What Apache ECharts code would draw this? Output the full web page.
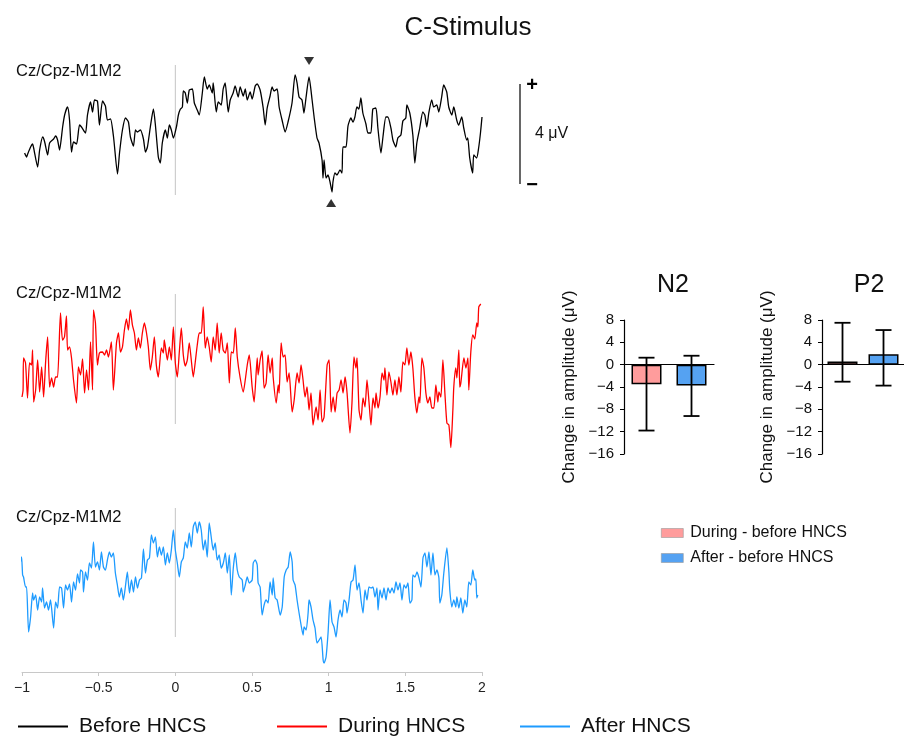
<!DOCTYPE html>
<html>
<head>
<meta charset="utf-8">
<script src="https://cdn.jsdelivr.net/npm/echarts@6/dist/echarts.min.js"></script>
<style>html,body{margin:0;padding:0;background:#fff}#chart{width:904px;height:739px}</style>
</head>
<body>
<div id="chart"></div>
<script>
// traces: [time (s), amplitude (µV)]
const beforeHNCS = [[-0.983,-1.12],[-0.970,-1.28],[-0.963,-1.16],[-0.944,-0.88],[-0.931,-0.76],[-0.924,-0.92],[-0.898,-1.68],[-0.885,-1.00],[-0.865,-0.48],[-0.852,-0.68],[-0.833,-1.20],[-0.820,-0.72],[-0.794,-0.56],[-0.781,-0.44],[-0.768,-0.60],[-0.755,-1.00],[-0.735,-0.08],[-0.722,0.40],[-0.703,0.72],[-0.690,0.20],[-0.677,-1.08],[-0.664,-0.68],[-0.644,-0.76],[-0.625,0.00],[-0.612,-0.08],[-0.586,-0.32],[-0.573,0.40],[-0.553,0.92],[-0.540,0.52],[-0.527,1.00],[-0.508,0.96],[-0.495,0.00],[-0.475,0.96],[-0.456,0.76],[-0.443,0.20],[-0.423,0.24],[-0.403,-0.48],[-0.377,-1.96],[-0.364,-1.12],[-0.345,-0.20],[-0.325,0.28],[-0.306,0.12],[-0.293,-0.48],[-0.273,-0.84],[-0.260,-0.20],[-0.247,-0.28],[-0.228,-0.20],[-0.208,-0.56],[-0.195,-1.08],[-0.182,-0.88],[-0.163,-0.08],[-0.143,0.64],[-0.130,0.00],[-0.111,-1.28],[-0.098,-1.52],[-0.085,-0.72],[-0.065,-0.20],[-0.052,-0.52],[-0.039,0.00],[-0.026,-0.20],[-0.013,-0.52],[0.007,-0.08],[0.020,0.40],[0.033,0.64],[0.046,0.72],[0.052,1.36],[0.065,1.28],[0.078,0.88],[0.091,1.40],[0.111,1.44],[0.124,0.88],[0.143,0.60],[0.156,0.40],[0.176,1.28],[0.189,1.92],[0.208,1.44],[0.221,1.60],[0.241,1.28],[0.247,1.68],[0.267,0.52],[0.280,0.92],[0.299,0.80],[0.312,1.44],[0.325,1.68],[0.345,0.52],[0.358,1.00],[0.377,1.28],[0.390,1.56],[0.410,1.12],[0.423,1.52],[0.443,1.16],[0.456,1.44],[0.469,1.00],[0.488,1.32],[0.501,1.04],[0.521,1.56],[0.534,1.64],[0.553,1.40],[0.573,0.68],[0.586,0.00],[0.599,0.68],[0.618,1.16],[0.631,1.52],[0.644,1.36],[0.664,1.44],[0.677,0.72],[0.696,0.20],[0.716,-0.28],[0.735,0.12],[0.761,0.88],[0.781,2.00],[0.794,1.68],[0.807,1.12],[0.826,1.00],[0.839,0.48],[0.852,1.08],[0.872,1.92],[0.892,1.00],[0.905,0.32],[0.924,-0.52],[0.937,-0.72],[0.957,-1.40],[0.963,-2.12],[0.970,-1.40],[0.983,-2.12],[0.996,-2.00],[1.009,-2.28],[1.022,-2.68],[1.028,-2.28],[1.041,-1.92],[1.054,-2.00],[1.074,-1.80],[1.087,-1.92],[1.093,-0.88],[1.113,-0.88],[1.126,-0.04],[1.145,0.28],[1.158,0.12],[1.171,0.32],[1.184,0.72],[1.197,0.64],[1.210,1.08],[1.223,0.48],[1.243,0.04],[1.256,-0.32],[1.275,-0.32],[1.288,0.64],[1.308,0.68],[1.321,-0.12],[1.341,-1.12],[1.354,-0.48],[1.373,0.32],[1.386,0.32],[1.406,-0.12],[1.419,-0.60],[1.438,-0.88],[1.451,-0.52],[1.471,-0.40],[1.484,0.16],[1.503,0.28],[1.510,0.80],[1.529,0.48],[1.549,-0.40],[1.562,-1.52],[1.575,-0.72],[1.594,-0.12],[1.614,0.52],[1.627,0.40],[1.640,-0.08],[1.653,0.48],[1.672,1.00],[1.685,0.72],[1.705,0.80],[1.718,0.52],[1.737,1.12],[1.750,1.60],[1.770,1.32],[1.783,0.72],[1.803,0.40],[1.816,0.72],[1.835,0.20],[1.848,0.00],[1.868,0.32],[1.881,-0.12],[1.900,-0.60],[1.907,-0.52],[1.920,-1.32],[1.939,-1.92],[1.946,-1.20],[1.965,-1.32],[1.978,-0.92],[1.990,-0.32],[2.000,0.32]];

const duringHNCS = [[-1.000,-1.68],[-0.993,-1.40],[-0.990,-0.12],[-0.977,-0.32],[-0.964,-1.72],[-0.951,-0.32],[-0.938,-0.40],[-0.931,0.20],[-0.924,-1.88],[-0.911,-1.40],[-0.898,-0.20],[-0.885,-1.48],[-0.872,-0.48],[-0.859,-1.68],[-0.846,-0.28],[-0.833,0.72],[-0.820,-1.28],[-0.807,-0.92],[-0.794,-1.28],[-0.781,-0.88],[-0.768,-0.88],[-0.749,1.68],[-0.736,0.60],[-0.723,0.72],[-0.710,1.56],[-0.703,0.20],[-0.690,0.32],[-0.677,-0.12],[-0.664,-1.00],[-0.645,-1.92],[-0.632,-0.48],[-0.618,-0.80],[-0.605,-0.16],[-0.592,-1.52],[-0.579,-0.60],[-0.566,-1.40],[-0.553,0.52],[-0.540,-1.40],[-0.534,1.80],[-0.521,1.28],[-0.508,-0.40],[-0.495,0.08],[-0.475,0.12],[-0.462,0.00],[-0.449,0.20],[-0.436,-0.08],[-0.417,0.52],[-0.404,-1.40],[-0.384,0.48],[-0.371,0.88],[-0.358,0.12],[-0.345,0.32],[-0.332,1.00],[-0.319,1.44],[-0.306,1.00],[-0.293,1.80],[-0.280,1.20],[-0.267,0.88],[-0.254,0.20],[-0.241,0.68],[-0.228,0.28],[-0.215,0.88],[-0.202,1.28],[-0.189,0.92],[-0.176,0.32],[-0.163,-0.60],[-0.150,-0.08],[-0.137,0.72],[-0.124,-0.40],[-0.111,-0.88],[-0.091,0.28],[-0.078,0.08],[-0.072,0.60],[-0.052,-0.20],[-0.039,0.32],[-0.026,-0.20],[-0.013,1.12],[0.000,-0.32],[0.013,-0.88],[0.026,0.12],[0.039,1.08],[0.052,0.00],[0.065,-0.44],[0.078,-0.20],[0.091,0.48],[0.104,-0.20],[0.117,-0.88],[0.130,-0.28],[0.143,0.40],[0.156,0.88],[0.169,0.88],[0.182,1.92],[0.195,0.28],[0.208,0.72],[0.221,0.32],[0.234,-0.28],[0.247,0.72],[0.260,0.20],[0.273,1.28],[0.286,0.08],[0.299,0.88],[0.312,0.20],[0.326,0.08],[0.339,0.48],[0.352,-1.12],[0.365,0.12],[0.378,0.08],[0.391,1.08],[0.404,-0.08],[0.423,-0.92],[0.443,-1.48],[0.456,-1.00],[0.469,-0.40],[0.482,0.00],[0.501,-1.28],[0.514,-1.88],[0.534,-0.12],[0.540,-0.80],[0.553,-0.20],[0.566,0.16],[0.579,-1.32],[0.592,-1.12],[0.605,0.00],[0.618,-0.72],[0.632,-0.12],[0.638,-0.88],[0.658,-1.92],[0.671,-1.20],[0.677,-1.52],[0.690,0.48],[0.703,-0.08],[0.716,0.00],[0.729,-1.08],[0.742,-0.72],[0.762,-2.28],[0.775,-1.80],[0.794,-0.72],[0.807,-1.12],[0.820,-0.40],[0.833,-1.00],[0.846,-1.68],[0.859,-1.28],[0.872,-2.20],[0.885,-1.52],[0.898,-2.80],[0.918,-2.08],[0.931,-2.60],[0.944,-1.40],[0.957,-2.68],[0.970,-2.48],[0.990,-0.40],[1.003,-0.20],[1.016,-2.28],[1.029,-1.68],[1.042,-2.28],[1.055,-1.52],[1.068,-1.40],[1.081,-1.00],[1.094,-1.52],[1.107,-0.88],[1.120,-1.52],[1.139,-3.12],[1.152,-1.92],[1.165,-0.08],[1.178,-0.52],[1.185,-0.12],[1.198,-2.20],[1.211,-2.60],[1.224,-1.72],[1.237,-2.08],[1.250,-1.00],[1.263,-1.88],[1.276,-2.80],[1.289,-1.72],[1.302,-2.12],[1.309,-1.52],[1.322,-2.12],[1.335,-1.68],[1.348,-0.72],[1.361,-1.00],[1.367,-0.52],[1.380,-1.60],[1.393,-0.68],[1.406,-1.08],[1.419,-1.60],[1.432,-1.00],[1.445,-1.60],[1.458,-0.88],[1.471,-1.48],[1.484,-0.28],[1.497,-0.40],[1.510,0.28],[1.523,-0.40],[1.536,0.12],[1.549,-0.52],[1.562,-1.68],[1.575,-2.32],[1.589,-1.68],[1.595,-1.92],[1.608,-0.12],[1.621,-0.52],[1.634,-1.52],[1.647,-1.92],[1.660,-1.68],[1.673,-2.12],[1.686,-2.12],[1.699,-1.20],[1.712,-1.88],[1.719,-1.48],[1.732,-1.68],[1.745,-0.20],[1.758,-1.52],[1.771,-2.72],[1.784,-2.80],[1.797,-3.70],[1.810,-2.20],[1.816,-1.28],[1.829,-0.52],[1.836,-0.92],[1.849,0.20],[1.855,-1.28],[1.862,-1.12],[1.882,-0.12],[1.895,-0.52],[1.908,-0.12],[1.914,-1.40],[1.927,0.12],[1.940,0.80],[1.953,0.64],[1.966,1.28],[1.973,1.12],[1.979,1.92],[1.992,2.04]];

const afterHNCS = [[-1.029,0.24],[-1.016,0.28],[-1.003,0.60],[-0.996,-0.12],[-0.990,-0.20],[-0.977,-0.60],[-0.970,-0.60],[-0.957,-2.40],[-0.944,-1.80],[-0.931,-0.84],[-0.924,-1.12],[-0.911,-0.92],[-0.898,-1.52],[-0.885,-1.00],[-0.872,-1.20],[-0.866,-0.64],[-0.853,-1.44],[-0.840,-1.20],[-0.827,-1.52],[-0.814,-1.12],[-0.794,-2.24],[-0.781,-1.20],[-0.768,-1.44],[-0.755,-0.60],[-0.742,-0.64],[-0.729,-1.44],[-0.716,-0.52],[-0.703,-0.72],[-0.690,-0.48],[-0.677,-1.20],[-0.664,-0.40],[-0.651,-0.72],[-0.638,-0.08],[-0.625,-0.44],[-0.618,0.08],[-0.605,0.00],[-0.599,-0.80],[-0.586,0.00],[-0.573,-0.32],[-0.560,0.36],[-0.547,0.16],[-0.534,1.20],[-0.521,0.20],[-0.508,0.40],[-0.495,0.08],[-0.482,0.80],[-0.469,0.20],[-0.456,0.08],[-0.443,0.48],[-0.430,0.80],[-0.417,0.60],[-0.404,0.76],[-0.391,-0.04],[-0.378,-0.52],[-0.365,-1.00],[-0.352,-0.64],[-0.339,-1.12],[-0.326,-0.60],[-0.313,0.00],[-0.299,-0.84],[-0.286,-0.32],[-0.273,-0.80],[-0.260,-0.20],[-0.247,-0.64],[-0.234,-0.32],[-0.221,-0.24],[-0.208,0.92],[-0.195,-0.04],[-0.182,0.48],[-0.169,0.56],[-0.156,1.48],[-0.143,1.16],[-0.130,1.40],[-0.117,0.60],[-0.104,1.00],[-0.091,0.68],[-0.078,1.00],[-0.065,0.28],[-0.052,0.76],[-0.039,0.36],[-0.026,0.88],[-0.013,1.68],[0.000,0.88],[0.013,0.36],[0.026,-0.20],[0.039,0.40],[0.052,0.56],[0.065,1.20],[0.078,0.96],[0.091,1.56],[0.104,1.00],[0.117,1.80],[0.130,2.00],[0.143,1.56],[0.156,2.00],[0.169,1.68],[0.182,0.88],[0.195,1.28],[0.208,0.60],[0.221,1.96],[0.234,1.40],[0.247,0.88],[0.260,1.16],[0.273,0.48],[0.286,0.68],[0.299,0.16],[0.313,0.36],[0.326,0.76],[0.339,-0.04],[0.352,0.68],[0.365,-0.92],[0.378,0.16],[0.391,0.76],[0.404,0.08],[0.417,-0.20],[0.436,-0.32],[0.443,-0.80],[0.456,-0.52],[0.469,-0.20],[0.482,-0.44],[0.501,-0.32],[0.508,0.36],[0.521,0.48],[0.534,0.28],[0.540,-0.44],[0.553,-0.60],[0.566,-1.72],[0.579,-1.32],[0.592,-1.12],[0.605,-1.24],[0.618,-0.40],[0.632,-0.92],[0.638,-0.24],[0.651,-1.04],[0.664,-1.12],[0.684,-1.72],[0.697,-1.40],[0.710,-0.20],[0.723,0.08],[0.736,0.20],[0.749,0.80],[0.762,0.40],[0.768,-0.32],[0.781,-0.52],[0.794,-1.12],[0.807,-1.64],[0.820,-2.12],[0.833,-2.52],[0.840,-2.20],[0.853,-2.32],[0.866,-1.64],[0.872,-1.12],[0.885,-1.40],[0.898,-1.92],[0.911,-2.24],[0.924,-2.84],[0.938,-2.72],[0.951,-2.60],[0.964,-3.52],[0.970,-3.64],[0.983,-3.40],[0.996,-2.44],[1.009,-1.12],[1.022,-2.00],[1.035,-2.20],[1.048,-2.60],[1.061,-1.92],[1.074,-1.52],[1.087,-1.80],[1.100,-1.12],[1.113,-1.24],[1.120,-1.64],[1.133,-1.12],[1.146,-0.40],[1.159,-0.32],[1.172,0.28],[1.185,-0.72],[1.198,-0.44],[1.211,-1.12],[1.224,-1.64],[1.237,-0.72],[1.250,-1.12],[1.263,-0.60],[1.276,-0.64],[1.289,-0.60],[1.302,-1.00],[1.315,-0.64],[1.322,-1.52],[1.335,-0.72],[1.348,-1.04],[1.361,-0.64],[1.374,-1.12],[1.387,-0.64],[1.400,-0.84],[1.413,-0.64],[1.426,-0.84],[1.439,-0.40],[1.452,-0.72],[1.465,-0.44],[1.478,-1.12],[1.491,-0.52],[1.504,-0.64],[1.517,-0.44],[1.530,-1.24],[1.543,-1.12],[1.549,-0.12],[1.563,-0.20],[1.576,0.00],[1.589,-0.24],[1.602,-0.60],[1.615,0.56],[1.628,0.76],[1.641,0.20],[1.654,0.80],[1.667,-0.12],[1.680,0.76],[1.693,-0.12],[1.706,0.08],[1.719,-0.24],[1.725,-1.24],[1.738,-0.92],[1.751,-0.04],[1.771,0.96],[1.784,0.00],[1.790,-0.72],[1.803,-1.40],[1.816,-1.12],[1.829,-1.40],[1.836,-1.00],[1.849,-1.44],[1.862,-1.04],[1.875,-1.64],[1.888,-1.12],[1.901,-1.40],[1.914,-0.40],[1.927,-0.52],[1.940,0.08],[1.953,-0.32],[1.960,-0.28],[1.966,-1.04],[1.973,-0.92]];

// stimulus onset markers (t = 0), extent in µV
const zeroLineBefore = [[0, 2.4], [0, -2.8]];
const zeroLineDuring = [[0, 2.44], [0, -2.76]];
const zeroLineAfter = [[0, 2.56], [0, -2.6]];

// N2 / P2 peak markers on the pre-HNCS trace
const peakMarks = [[0.872, 2.56], [1.016, -3.12]];

// bar panels
const barGroups = ['During - before HNCS', 'After - before HNCS'];
const n2Mean = [-3.5, -3.75];
const n2Low = [-11.8, -9.2];
const n2High = [1.25, 1.6];
const p2Mean = [0.55, 1.85];
const p2Low = [-3.05, -3.75];
const p2High = [7.5, 6.2];

const FONT = 'Liberation Sans, Arial, sans-serif';
const minus = v => String(v).replace('-', '\u2212');
const pink = '#ff9c9c', blue = '#55a2f2';

function traceAxes(grid, min, max, show) {
  return {
    x: {
      type: 'value', gridIndex: grid, min: -1, max: 2, interval: 0.5, show: show,
      axisLine: { onZero: false, lineStyle: { color: '#c8c8c8' } },
      axisTick: { lineStyle: { color: '#c8c8c8' }, length: 4 },
      axisLabel: { color: '#222', fontSize: 14, fontFamily: FONT, margin: 9, formatter: minus },
      splitLine: { show: false }
    },
    y: { type: 'value', gridIndex: grid, min: min, max: max, show: false }
  };
}
const ax0 = traceAxes(0, -3.4, 3, false);
const ax1 = traceAxes(1, -4, 3, false);
const ax2 = traceAxes(2, -4, 3, true);

function barAxes(grid) {
  return {
    x: {
      type: 'category', gridIndex: grid, data: barGroups,
      axisLine: { onZero: true, lineStyle: { color: '#000', width: 1.2 } },
      axisTick: { show: false }, axisLabel: { show: false }
    },
    y: {
      type: 'value', gridIndex: grid, min: -16, max: 8, interval: 4,
      name: 'Change in amplitude (\u03bcV)', nameLocation: 'middle', nameGap: 46,
      nameTextStyle: { fontSize: 17, color: '#111', fontFamily: FONT },
      axisLine: { show: true, lineStyle: { color: '#000', width: 1.2 } },
      axisTick: { show: true, length: 4, lineStyle: { color: '#000' } },
      axisLabel: { color: '#111', fontSize: 15, fontFamily: FONT, margin: 10, formatter: minus },
      splitLine: { show: false }
    }
  };
}
const ax3 = barAxes(3);
const ax4 = barAxes(4);

function zeroLine(idx, data) {
  return {
    type: 'line', xAxisIndex: idx, yAxisIndex: idx, data: data, showSymbol: false, silent: true,
    lineStyle: { color: '#c4c4c4', width: 1 }, z: 1
  };
}
function trace(idx, name, data, color) {
  return {
    type: 'line', name: name, xAxisIndex: idx, yAxisIndex: idx, data: data, clip: false,
    smooth: 0.2, showSymbol: false, lineStyle: { color: color, width: 1.3 }, itemStyle: { color: color }, z: 3
  };
}
function bars(idx, mean) {
  return barGroups.map((g, i) => ({
    type: 'bar', name: g, xAxisIndex: idx, yAxisIndex: idx, barWidth: 30, barGap: '-100%',
    data: mean.map((v, j) => (j === i ? v : null)),
    itemStyle: { color: i === 0 ? pink : blue, borderColor: '#000', borderWidth: 1.5 }
  }));
}
function errors(idx, low, high) {
  return {
    type: 'custom', xAxisIndex: idx, yAxisIndex: idx, z: 5,
    data: low.map((l, i) => [i, l, high[i]]),
    encode: { x: 0, y: [1, 2] },
    renderItem: function (params, api) {
      const lo = api.coord([api.value(0), api.value(1)]);
      const hi = api.coord([api.value(0), api.value(2)]);
      const x = lo[0], c = 8;
      const st = { stroke: '#000', lineWidth: 1.8 };
      return {
        type: 'group', children: [
          { type: 'line', shape: { x1: x, y1: lo[1], x2: x, y2: hi[1] }, style: st },
          { type: 'line', shape: { x1: x - c, y1: lo[1], x2: x + c, y2: lo[1] }, style: st },
          { type: 'line', shape: { x1: x - c, y1: hi[1], x2: x + c, y2: hi[1] }, style: st }
        ]
      };
    }
  };
}

function lineLegend(left, name) {
  return {
    left: left, top: 716, padding: 0, selectedMode: false, icon: 'rect',
    itemWidth: 50, itemHeight: 2, data: [name],
    textStyle: { fontSize: 21, color: '#111', fontFamily: FONT, padding: [0, 0, 0, 6] }
  };
}

const chart = echarts.init(document.getElementById('chart'));
chart.setOption({
  animation: false,
  backgroundColor: '#fff',
  title: [
    { text: 'C-Stimulus', left: 463, top: 10, textAlign: 'center', textStyle: { fontSize: 26, fontWeight: 'normal', color: '#111', fontFamily: FONT } },
    { text: 'N2', left: 668, top: 268, textAlign: 'center', textStyle: { fontSize: 25, fontWeight: 'normal', color: '#111', fontFamily: FONT } },
    { text: 'P2', left: 864, top: 268, textAlign: 'center', textStyle: { fontSize: 25, fontWeight: 'normal', color: '#111', fontFamily: FONT } }
  ],
  grid: [
    { left: 22, width: 460, top: 50, height: 160 },
    { left: 22, width: 460, top: 280, height: 175 },
    { left: 22, width: 460, top: 497, height: 175 },
    { left: 624, width: 90, top: 320, height: 134 },
    { left: 822, width: 90, top: 320, height: 134 }
  ],
  xAxis: [ax0.x, ax1.x, ax2.x, ax3.x, ax4.x],
  yAxis: [ax0.y, ax1.y, ax2.y, ax3.y, ax4.y],
  legend: [
    lineLegend(18, 'Before HNCS'),
    lineLegend(277, 'During HNCS'),
    lineLegend(520, 'After HNCS'),
    {
      left: 661, top: 525, orient: 'vertical', padding: 0, itemGap: 9, selectedMode: false,
      icon: 'rect', itemWidth: 22, itemHeight: 9, data: barGroups,
      itemStyle: { borderWidth: 0.6, borderColor: '#999' },
      textStyle: { fontSize: 16, color: '#111', fontFamily: FONT, padding: [0, 0, 0, 2] }
    }
  ],
  graphic: [
    { type: 'text', left: 16, top: 63, style: { text: 'Cz/Cpz-M1M2', fontSize: 16.5, fill: '#111', fontFamily: FONT } },
    { type: 'text', left: 16, top: 285, style: { text: 'Cz/Cpz-M1M2', fontSize: 16.5, fill: '#111', fontFamily: FONT } },
    { type: 'text', left: 16, top: 509, style: { text: 'Cz/Cpz-M1M2', fontSize: 16.5, fill: '#111', fontFamily: FONT } },
    { type: 'line', shape: { x1: 520, y1: 84, x2: 520, y2: 184 }, style: { stroke: '#000', lineWidth: 1.2 } },
    { type: 'text', x: 532, y: 85, style: { text: '+', fontSize: 20, fontWeight: 'bold', fill: '#000', align: 'center', verticalAlign: 'middle', fontFamily: FONT } },
    { type: 'text', x: 532, y: 185, style: { text: '\u2212', fontSize: 20, fontWeight: 'bold', fill: '#000', align: 'center', verticalAlign: 'middle', fontFamily: FONT } },
    { type: 'text', x: 535, y: 134, style: { text: '4 \u03bcV', fontSize: 16, fill: '#111', verticalAlign: 'middle', fontFamily: FONT } }
  ],
  series: [
    zeroLine(0, zeroLineBefore),
    zeroLine(1, zeroLineDuring),
    zeroLine(2, zeroLineAfter),
    trace(0, 'Before HNCS', beforeHNCS, '#000'),
    trace(1, 'During HNCS', duringHNCS, '#ff0000'),
    trace(2, 'After HNCS', afterHNCS, '#1e9bff'),
    {
      type: 'scatter', xAxisIndex: 0, yAxisIndex: 0, symbol: 'triangle', symbolSize: [10, 8], silent: true,
      itemStyle: { color: '#000' },
      data: peakMarks.map((p, i) => ({ value: p, symbolRotate: i === 0 ? 180 : 0 }))
    },
    ...bars(3, n2Mean),
    ...bars(4, p2Mean),
    errors(3, n2Low, n2High),
    errors(4, p2Low, p2High)
  ]
});
</script>
</body>
</html>
